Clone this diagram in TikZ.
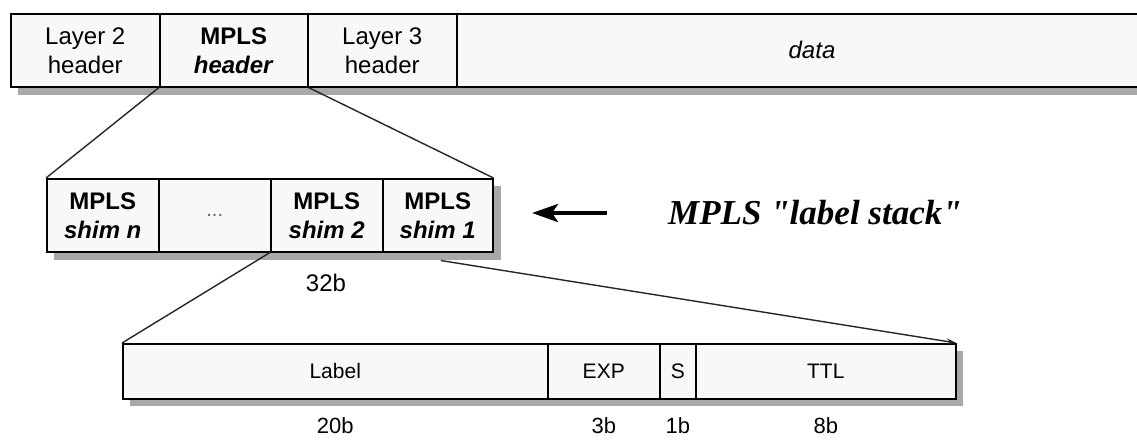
\documentclass[tikz,border=0pt]{standalone}
\usepackage{fontspec}
\setmainfont{Liberation Sans}
\newfontfamily\capfont{Liberation Serif}
\usetikzlibrary{calc,arrows.meta}
\definecolor{cellfill}{HTML}{F8F8F8}
\definecolor{shadowc}{HTML}{A8A8A8}
\tikzset{
  cell/.style={draw=black, line width=1.5pt, fill=cellfill, inner sep=0pt, anchor=north west, align=center, font=\fontsize{24}{29}\selectfont},
  topcell/.style={cell, minimum height=73pt},
  lowcell/.style={cell, minimum height=55pt, font=\fontsize{21}{25}\selectfont},
  shadowbox/.style={fill=shadowc},
  conn/.style={draw=black!85, line width=1.4pt},
  bits/.style={font=\fontsize{22}{25}\selectfont},
  bigarrow/.style={line width=4pt, -{Stealth[length=26pt,width=18pt,inset=6pt]}},
}
\begin{document}
\begin{tikzpicture}[x=1pt,y=-1pt]
\useasboundingbox[fill=white] (0,0) rectangle (1137,440);

% top row shadow
\fill[shadowbox] (18,21) rectangle (1150,95);
% top row
\node[topcell, minimum width=149pt] (l2) at (10,13) {Layer 2\\header};
\node[topcell, minimum width=148pt] (hm) at (159,13) {\textbf{MPLS}\\\textbf{\textit{header}}};
\node[topcell, minimum width=149pt] (l3) at (307,13) {Layer 3\\header};
\node[topcell, minimum width=700pt] (data) at (456,13) {};
\node[font=\fontsize{24}{29}\selectfont\itshape] (datat) at (812,50) {data};

% middle row shadow
\fill[shadowbox] (54,186) rectangle (501,260);

% middle row
\node[topcell, minimum width=112pt] (sn) at (46,178) {\textbf{MPLS}\\\textbf{\textit{shim n}}};
\node[topcell, minimum width=112pt] (dots) at (158,178) {\textcolor{black!60}{\fontsize{20}{20}\selectfont ...}};
\node[topcell, minimum width=112pt] (s2) at (270,178) {\textbf{MPLS}\\\textbf{\textit{shim 2}}};
\node[topcell, minimum width=110pt] (s1) at (382,178) {\textbf{MPLS}\\\textbf{\textit{shim 1}}};

% lines from top row
\draw[conn] (hm.south west) -- (sn.north west);
\draw[conn] (hm.south east) -- (s1.north east);

\node[font=\fontsize{24}{29}\selectfont] (b32) at (326,283) {32b};

% bottom row shadow
\fill[shadowbox] (130,351) rectangle (963,406);
% bottom row
\node[lowcell, minimum width=425pt] (lab) at (122,343) {Label};
\node[lowcell, minimum width=112pt] (exp) at (547,343) {EXP};
\node[lowcell, minimum width=36pt] (sb) at (659,343) {S};
\node[lowcell, minimum width=260pt] (ttl) at (695,343) {TTL};

\coordinate (s1b) at ($(s1.south)+(3,8)$);
\draw[conn] (s2.south west) -- (lab.north west);
\draw[conn, -{Stealth[length=10pt,width=6pt]}] (s1b) -- (ttl.north east);

\node[bits] (b20) at (lab.south |- 0,426) {20b};
\node[bits] (b3) at (exp.south |- 0,426) {3b};
\node[bits] (b1) at (sb.south |- 0,426) {1b};
\node[bits] (b8) at (ttl.south |- 0,426) {8b};

% label stack arrow + caption
\coordinate (arrs) at (607,213);
\coordinate (arre) at (532,213);
\draw[bigarrow] (arrs) -- (arre);
\node[font=\capfont\bfseries\itshape\fontsize{35}{40}\selectfont] (cap) at (815,213) {MPLS "label stack"};
\end{tikzpicture}
\end{document}
